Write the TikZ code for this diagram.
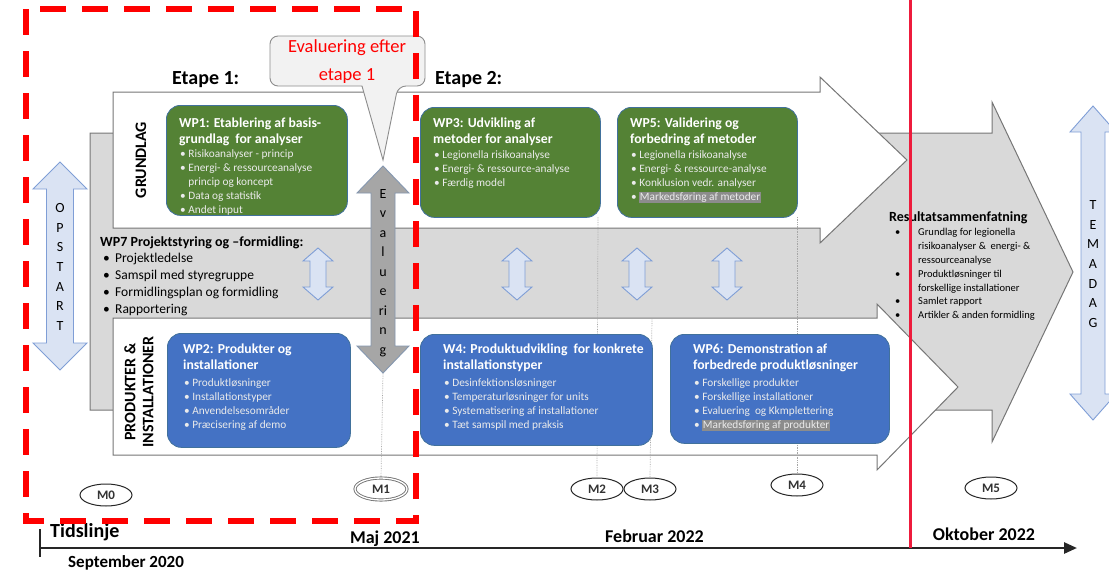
\documentclass[tikz,border=0pt]{standalone}
\usepackage{fontspec}
\setmainfont{Carlito}
\usetikzlibrary{positioning, arrows.meta, shapes.geometric}

\definecolor{wpgreen}{HTML}{548235}
\definecolor{wpblue}{HTML}{4472C4}
\definecolor{boxedge}{HTML}{41719C}
\definecolor{strip}{HTML}{D9D9D9}
\definecolor{armedge}{HTML}{767676}
\definecolor{evalfill}{HTML}{A6A6A6}
\definecolor{evaledge}{HTML}{8497B0}
\definecolor{paleblue}{HTML}{DAE3F3}
\definecolor{paleedge}{HTML}{7F9ED6}
\definecolor{hlgray}{HTML}{8C8C8C}
\definecolor{calloutfill}{HTML}{F2F2F2}
\definecolor{stopred}{HTML}{EE1B3C}
\definecolor{etapered}{HTML}{FF0000}
\definecolor{dotgray}{HTML}{A6A6A6}

% vertical double arrow: x, top, bottom, head half width, shaft half width, head length, style
\newcommand{\updown}[7]{%
  \draw[#7] (#1,#2) -- (#1+#4,#2+#6) -- (#1+#5,#2+#6) -- (#1+#5,#3-#6) -- (#1+#4,#3-#6) -- (#1,#3)
    -- (#1-#4,#3-#6) -- (#1-#5,#3-#6) -- (#1-#5,#2+#6) -- (#1-#4,#2+#6) -- cycle;}
\newcommand{\hlgr}[1]{{\setlength{\fboxsep}{0.6pt}\colorbox{hlgray}{#1}}}
\newcommand{\bul}{\textbullet\ }
\newcommand{\pbul}{\makebox[12pt][l]{\textbullet}}
\newcommand{\rbul}{\makebox[23pt][l]{\textbullet}}
\newcommand{\rind}{\hspace*{23pt}}

\begin{document}
\begin{tikzpicture}[x=1pt, y=-1pt,
    bigarrow/.style={draw=armedge, line width=1pt},
    wpbox/.style={draw=boxedge, line width=0.8pt, rounded corners=14pt, anchor=north west, inner sep=0pt},
    wptitle/.style={anchor=north west, inner sep=0pt, align=left, text=white, font=\bfseries\fontsize{13.7}{16}\selectfont},
    wplist/.style={anchor=north west, inner sep=0pt, align=left, text=white!92!black, font=\fontsize{11.3}{14}\selectfont},
    letters/.style={inner sep=0pt, align=center, font=\fontsize{14}{19.7}\selectfont},
    sidelabel/.style={rotate=90, inner sep=0pt, align=center, font=\bfseries\fontsize{16}{18}\selectfont},
    milestone/.style={draw=black!85, ellipse, fill=white, line width=1pt, minimum width=52pt, minimum height=22pt, inner sep=0pt, font=\bfseries\fontsize{13}{13}\selectfont, text=black!80},
    dateline/.style={anchor=base, inner sep=0pt, font=\bfseries\fontsize{18}{18}\selectfont},
    dotline/.style={dotgray, densely dotted, line width=0.7pt},
    palearrow/.style={draw=paleedge, fill=paleblue, line width=0.9pt}]

\useasboundingbox (0,0) rectangle (1109,571);
\clip (0,0) rectangle (1109,571);

% big arrows
\draw[bigarrow, fill=strip] (90,133) -- (992,133) -- (992,102) -- (1073,272) -- (992,442) -- (992,410) -- (90,410) -- cycle;
\draw[bigarrow, fill=white] (113,92) -- (820,92) -- (820,77) -- (907,160) -- (820,243) -- (820,228) -- (113,228) -- cycle;
\draw[bigarrow, fill=white] (113,318) -- (877,318) -- (877,304) -- (958,387) -- (877,470) -- (877,455) -- (113,455) -- cycle;

% milestones
\node[milestone] (m0) at (106,495) {M0};
\node[milestone, draw=black!55, double=white, double distance=1.3pt, line width=0.9pt] (m1) at (381,489) {M1};
\node[milestone] (m2) at (597,489) {M2};
\node[milestone] (m3) at (650,489) {M3};
\node[milestone] (m4) at (797,485) {M4};
\node[milestone] (m5) at (991,488) {M5};

% guide lines
\coordinate (evaltip) at (383,373);
\coordinate (wp3foot) at (598,217);
\coordinate (w4head) at (652,318);
\coordinate (wp5foot) at (797,217);
\draw[dotline] (evaltip) -- (m1.north);
\draw[dotline] (wp3foot) -- (m2.north);
\draw[dotline] (w4head) -- (m3.north);
\draw[dotline] (wp5foot) -- (m4.north);

% work packages
\node[wpbox, fill=wpgreen, minimum width=181pt, minimum height=110pt] (wp1) at (166,105) {};
\node[wptitle] (wp1head) at (179,118) {WP1: Etablering af basis-\\grundlag\ \ for analyser};
\node[wplist] (wp1list) at (180,149) {\bul Risikoanalyser - princip\\\bul Energi- \& ressourceanalyse\\\phantom{\bul}princip og koncept\\\bul Data og statistik\\\bul Andet input};

\node[wpbox, fill=wpgreen, minimum width=180pt, minimum height=110pt] (wp3) at (420,107) {};
\node[wptitle] (wp3head) at (433,118) {WP3: Udvikling af\\metoder for analyser};
\node[wplist] (wp3list) at (434,150.5) {\bul Legionella risikoanalyse\\\bul Energi- \& ressource-analyse\\\bul Færdig model};

\node[wpbox, fill=wpgreen, minimum width=180pt, minimum height=110pt] (wp5) at (617,107) {};
\node[wptitle] (wp5head) at (630,118) {WP5: Validering og\\forbedring af metoder};
\node[wplist] (wp5list) at (631,150.5) {\bul Legionella risikoanalyse\\\bul Energi- \& ressource-analyse\\\bul Konklusion vedr. analyser\\\bul \hlgr{Markedsføring af metoder}};

\node[wpbox, fill=wpblue, minimum width=183pt, minimum height=114pt] (wp2) at (167,333) {};
\node[wptitle] (wp2head) at (183,344) {WP2: Produkter og\\installationer};
\node[wplist] (wp2list) at (184,378) {\bul Produktløsninger\\\bul Installationstyper\\\bul Anvendelsesområder\\\bul Præcisering af demo};

\node[wpbox, fill=wpblue, minimum width=232pt, minimum height=111pt] (w4) at (420,334) {};
\node[wptitle] (w4head) at (443,344) {W4: Produktudvikling\ \ for konkrete\\installationstyper};
\node[wplist] (w4list) at (444,378) {\bul Desinfektionsløsninger\\\bul Temperaturløsninger for units\\\bul Systematisering af installationer\\\bul Tæt samspil med praksis};

\node[wpbox, fill=wpblue, minimum width=219pt, minimum height=109pt] (wp6) at (670,334) {};
\node[wptitle] (wp6head) at (693,344) {WP6: Demonstration af\\forbedrede produktløsninger};
\node[wplist] (wp6list) at (694,378) {\bul Forskellige produkter\\\bul Forskellige installationer\\\bul Evaluering\ \ og Kkmplettering\\\bul \hlgr{Markedsføring af produkter}};

% WP7 strip
\node[anchor=base west, inner sep=0pt, font=\bfseries\fontsize{14}{14}\selectfont] (wp7head) at (100,246.5) {WP7 Projektstyring og –formidling:};
\node[anchor=north west, inner sep=0pt, align=left, font=\fontsize{13.5}{17}\selectfont] (wp7list) at (103,252.5) {\pbul Projektledelse\\\pbul Samspil med styregruppe\\\pbul Formidlingsplan og formidling\\\pbul Rapportering};

% result
\node[anchor=base west, inner sep=0pt, font=\bfseries\fontsize{14}{14}\selectfont] (resulthead) at (889,221) {Resultatsammenfatning};
\node[anchor=north west, inner sep=0pt, align=left, font=\fontsize{10.5}{13.8}\selectfont] (resultlist) at (895,228.5) {\rbul Grundlag for legionella\\\rind risikoanalyser \&\ \ energi- \&\\\rind ressourceanalyse\\\rbul Produktløsninger til\\\rind forskellige installationer\\\rbul Samlet rapport\\\rbul Artikler \& anden formidling};

% double arrows
\updown{318}{248}{300}{15}{8}{13}{palearrow}
\updown{517}{248}{300}{15}{8}{13}{palearrow}
\updown{637}{248}{300}{15}{8}{13}{palearrow}
\updown{727}{248}{300}{15}{8}{13}{palearrow}
\updown{60}{162}{370}{27}{13.5}{27}{palearrow}
\updown{1093}{106}{420}{23}{12}{26}{palearrow}
\updown{383}{166}{373}{26}{12}{27}{draw=evaledge, fill=evalfill, line width=0.9pt}
\node[letters] (opstart) at (60,267) {O\\P\\S\\T\\A\\R\\T};
\node[letters] (temadag) at (1093,264) {T\\E\\M\\A\\D\\A\\G};
\node[letters, font=\fontsize{14}{19.5}\selectfont] (evalletters) at (383,273) {E\\v\\a\\l\\u\\e\\ri\\n\\g};

% side labels
\node[sidelabel] (grundlag) at (141,160) {GRUNDLAG};
\node[sidelabel] (produkter) at (139,392) {PRODUKTER \&\\INSTALLATIONER};

% stages
\node[anchor=base west, inner sep=0pt, font=\bfseries\fontsize{20}{20}\selectfont] (etape1) at (172,84) {Etape 1:};
\node[anchor=base west, inner sep=0pt, font=\bfseries\fontsize{20}{20}\selectfont] (etape2) at (435,84) {Etape 2:};

% callout
\draw[draw=black!45, fill=calloutfill, line width=0.9pt, rounded corners=8pt] (270,36) -- (425,36) -- (425,86) -- (398,86) [sharp corners] -- (383,160) -- (362,86) [rounded corners=8pt] -- (270,86) -- cycle;
\node[inner sep=0pt, align=center, text=etapered, font=\fontsize{18.5}{28}\selectfont] (evalnote) at (347,62) {Evaluering efter\\etape 1};

% timeline
\coordinate (tstart) at (40,548);
\coordinate (tend) at (1077,548);
\coordinate (ticktop) at (40,529);
\coordinate (tickbot) at (40,557);
\draw[line width=2.6pt, black!85, -{Triangle[length=13pt, width=11pt]}] (tstart) -- (tend);
\draw[line width=2.6pt, black!85] (ticktop) -- (tickbot);
\node[anchor=base west, inner sep=0pt, font=\bfseries\fontsize{20}{20}\selectfont] (tidslinje) at (50,537) {Tidslinje};
\node[anchor=base west, inner sep=0pt, font=\bfseries\fontsize{17}{17}\selectfont] (sep20) at (68,567) {September 2020};
\node[dateline, anchor=base east] (maj21) at (420,543) {Maj 2021};
\node[dateline] (feb22) at (654.5,542) {Februar 2022};
\node[dateline] (okt22) at (984,540) {Oktober 2022};

% stage borders
\draw[etapered, line width=6pt, dash pattern=on 26pt off 16pt] (26,9) rectangle (416,521);
\coordinate (cuttop) at (910,0);
\coordinate (cutbot) at (910,548);
\draw[stopred, line width=3pt] (cuttop) -- (cutbot);
\end{tikzpicture}
\end{document}
